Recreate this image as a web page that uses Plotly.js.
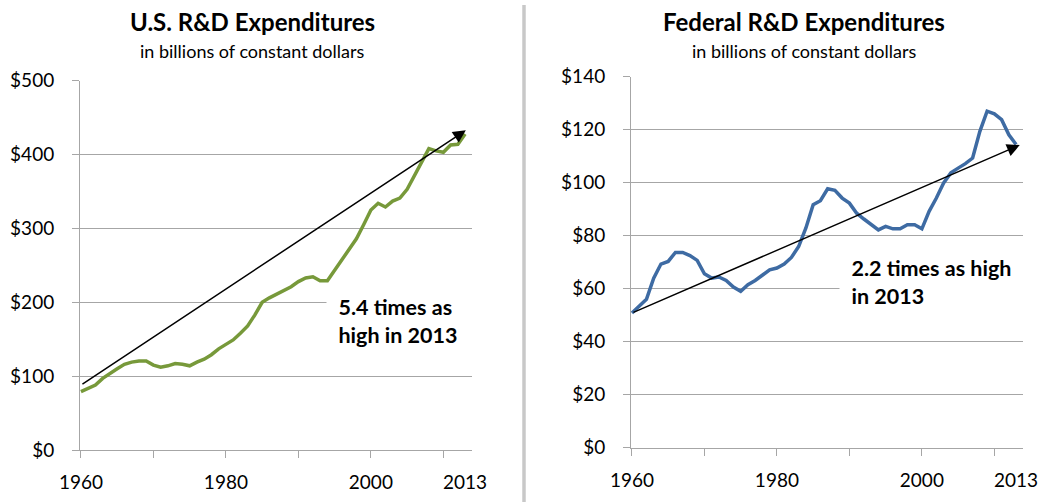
<!DOCTYPE html>
<html>
<head>
<meta charset="utf-8">
<script src="https://cdn.plot.ly/plotly-3.0.1.min.js"></script>
<style>
html,body{margin:0;padding:0;background:#fff;}
#chart{width:1049px;height:502px;}
</style>
</head>
<body>
<div id="chart"></div>
<script>
// ---- data ----
const years = [1960,1961,1962,1963,1964,1965,1966,1967,1968,1969,
               1970,1971,1972,1973,1974,1975,1976,1977,1978,1979,
               1980,1981,1982,1983,1984,1985,1986,1987,1988,1989,
               1990,1991,1992,1993,1994,1995,1996,1997,1998,1999,
               2000,2001,2002,2003,2004,2005,2006,2007,2008,2009,
               2010,2011,2012,2013];
const usRD = [79,83,88,97,104,110,116,119,120.5,120.5,
              115,112,114,117,116,114,119,123,129,137,
              143,149,158,168,183,200,206,211,216,221,
              228,233,234.5,229,229,243,257,272,286,305,
              325,334,329,337,341,353,371,390,408,405,
              403,413,414,428];
const fedRD = [50.8,53.3,56,64,69.3,70.3,73.7,73.7,72.5,70.7,
               65.6,64,64.4,63.1,60.6,59,61.5,63.1,65.2,67.1,
               67.8,69.3,71.8,75.9,82.9,91.7,93.2,97.7,97.1,94.2,
               92.3,88.5,86.3,84.1,82.2,83.5,82.6,82.6,84.1,84.1,
               82.6,89.2,94.2,99.9,103.7,105.5,107.2,109.3,119.4,127,
               126,123.8,118.1,114.4];
const xTickVals = [1960,1980,2000,2013];
const xTickText = ['1960','1980','2000','2013'];
const titles = ['U.S. R&D Expenditures','Federal R&D Expenditures'];
const subtitle = 'in billions of constant dollars';
const notes = ['5.4 times as<br>high in 2013','2.2 times as high<br>in 2013'];
// trend arrows: [x0, y0, x1, y1]
const usArrow = [1960, 88, 2013.1, 433];
const fedArrow = [1960, 50.8, 2013.5, 114.2];

// ---- style ----
const W = 1049, H = 502;
const FONT = 'Lato, "Open Sans", sans-serif';
const GRID = '#a6a6a6';
const xr = [1959.87, 2013.95];
function px(x){return x/W;}
function py(y){return 1 - y/H;}

function xAxis(d){
  return {domain:d, range:xr, tickvals:xTickVals, ticktext:xTickText, ticks:'',
    showgrid:false, zeroline:false, showline:true, linecolor:GRID, linewidth:1,
    tickfont:{family:FONT,size:19,color:'#000'}, ticklabelstandoff:15, fixedrange:true};
}
function xTickAxis(over, anchor){
  return {overlaying:over, anchor:anchor, range:xr, tick0:1960, dtick:10, ticks:'outside',
    ticklen:7, tickcolor:GRID, tickwidth:1, showticklabels:false, showgrid:false,
    zeroline:false, showline:false, fixedrange:true};
}
function yAxis(d, max, step){
  return {domain:d, range:[0,max], dtick:step, tickprefix:'$', ticks:'outside', ticklen:7,
    tickcolor:GRID, gridcolor:GRID, gridwidth:1, showline:true, linecolor:GRID,
    zeroline:false, tickfont:{family:FONT,size:19,color:'#000'}, ticklabelstandoff:14,
    fixedrange:true};
}

const traces = [
  {x:years, y:usRD, xaxis:'x', yaxis:'y', mode:'lines', line:{color:'#77993a', width:3.5}, hoverinfo:'skip'},
  {x:years, y:fedRD, xaxis:'x2', yaxis:'y2', mode:'lines', line:{color:'#3e6ba3', width:3.5}, hoverinfo:'skip'},
  {x:years, y:usRD, xaxis:'x3', yaxis:'y', mode:'lines', opacity:0, hoverinfo:'skip'},
  {x:years, y:fedRD, xaxis:'x4', yaxis:'y2', mode:'lines', opacity:0, hoverinfo:'skip'}
];

const xd1 = [px(80), px(472)], xd2 = [px(631), px(1023)];
const yd1 = [py(450), py(80.7)], yd2 = [py(447.7), py(76.7)];

function arrow(a, xref, yref){
  return {x:a[2], y:a[3], ax:a[0], ay:a[1], xref:xref, yref:yref, axref:xref, ayref:yref,
    showarrow:true, arrowhead:2, arrowsize:1.7, arrowwidth:1.5, arrowcolor:'#000', text:''};
}
function titleAnn(t, x, y, size, bold){
  return {xref:'paper', yref:'paper', x:px(x), y:py(y), xanchor:'center', yanchor:'middle',
    showarrow:false, text: bold ? '<b>'+t+'</b>' : t, font:{family:FONT, size:size, color:'#000'}};
}
const NB = '\u00a0\u00a0';
function noteAnn(t, x, yv, xref, yref, w){
  const lines = t.split('<br>').map(s => NB + s);
  return {xref:xref, yref:yref, x:x, y:yv, xanchor:'left', yanchor:'middle', showarrow:false,
    text:'<b>' + lines.join('<br>') + '</b>', align:'left', bgcolor:'#fff', borderpad:1, width:w,
    font:{family:FONT, size:21.5, color:'#000'}};
}

const layout = {
  width:W, height:H, margin:{l:0,r:0,t:0,b:0}, showlegend:false,
  paper_bgcolor:'#fff', plot_bgcolor:'#fff',
  xaxis:xAxis(xd1), xaxis2:Object.assign(xAxis(xd2), {anchor:'y2'}),
  xaxis3:xTickAxis('x','y'), xaxis4:xTickAxis('x2','y2'),
  yaxis:Object.assign(yAxis(yd1, 500, 100), {anchor:'x'}),
  yaxis2:Object.assign(yAxis(yd2, 140, 20), {anchor:'x2'}),
  shapes:[{type:'line', xref:'paper', yref:'paper', x0:px(524), x1:px(524), y0:py(5), y1:0,
    line:{color:'#c8c8c8', width:3.5}}],
  annotations:[
    titleAnn(titles[0], 252, 22, 24, true),
    titleAnn(subtitle, 252, 51, 18, false),
    titleAnn(titles[1], 804, 22, 24, true),
    titleAnn(subtitle, 804, 51, 18, false),
    arrow(usArrow, 'x', 'y'),
    arrow(fedArrow, 'x2', 'y2'),
    noteAnn(notes[0], 1993.75, 174, 'x', 'y', 150),
    noteAnn(notes[1], 1988.55, 62.5, 'x2', 'y2', 190)
  ]
};

Plotly.newPlot('chart', traces, layout, {displayModeBar:false, staticPlot:true});
</script>
</body>
</html>
